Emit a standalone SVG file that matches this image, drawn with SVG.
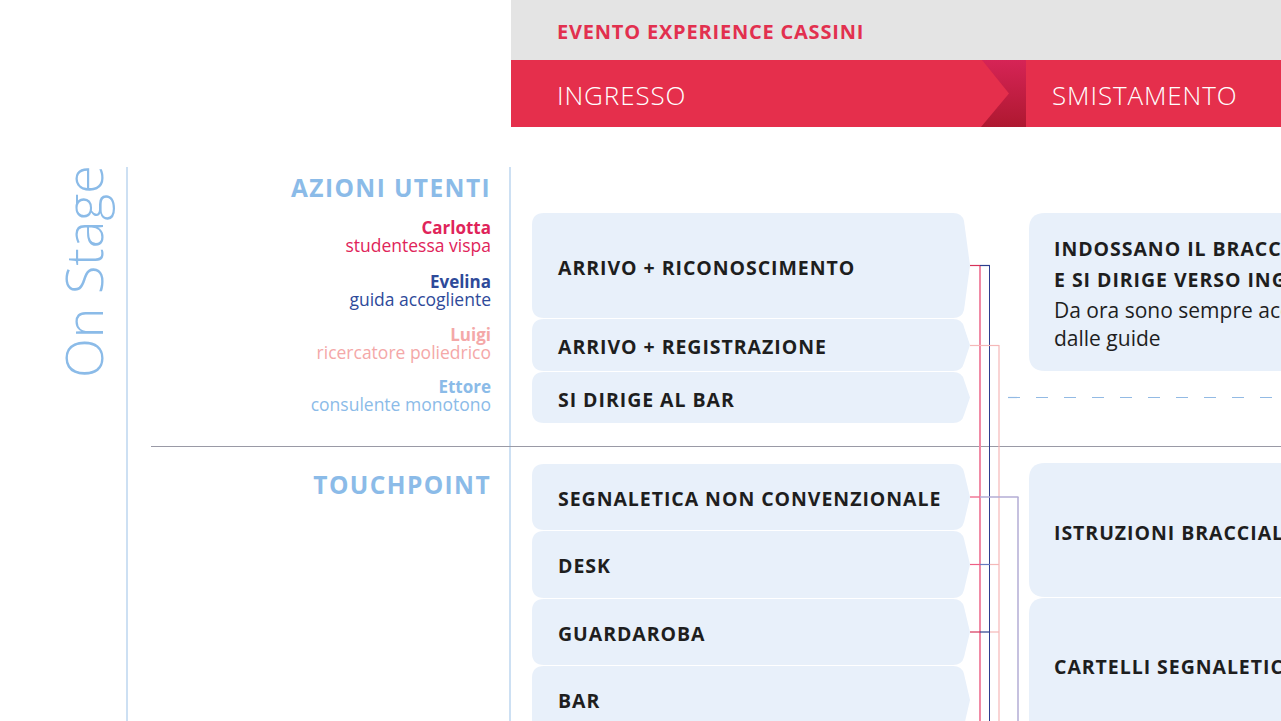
<svg xmlns="http://www.w3.org/2000/svg" width="1281" height="721" viewBox="0 0 1281 721">
<defs>
<linearGradient id="dk" x1="0" y1="0" x2="0" y2="1">
<stop offset="0" stop-color="#d62456"/>
<stop offset="1" stop-color="#ae1830"/>
</linearGradient>
<style>
.bx{fill:#e8f0fa}
.bt{font-family:"Open Sans","Noto Sans",sans-serif;font-weight:700;font-size:19.5px;fill:#1e1e1e;letter-spacing:0.95px}
.rt{font-family:"Open Sans","Noto Sans",sans-serif;font-weight:400;font-size:21px;fill:#1e1e1e}
.sec{font-family:"Open Sans","Noto Sans",sans-serif;font-weight:700;font-size:24.5px;fill:#8bbbe8;text-anchor:end;letter-spacing:1.4px}
.pn{font-family:"Open Sans","Noto Sans",sans-serif;font-weight:700;font-size:17px;text-anchor:end}
.pd{font-family:"Open Sans","Noto Sans",sans-serif;font-weight:400;font-size:17.5px;text-anchor:end}
.hd{font-family:"Open Sans","Noto Sans",sans-serif;font-weight:300;font-size:26px;fill:#ffffff;letter-spacing:0.9px}
.c{fill:none}
</style>
</defs>
<rect width="1281" height="721" fill="#ffffff"/>

<g id="header">
<rect x="511" y="0" width="770" height="60" fill="#e4e4e4"/>
<rect x="511" y="60" width="770" height="67" fill="#e52f4c"/>
<rect x="981" y="60" width="45" height="67" fill="url(#dk)"/>
<polygon points="511,60 982,60 1009,93.5 981,127 511,127" fill="#e52f4c"/>
<text x="557" y="39" font-family="Open Sans, Noto Sans, sans-serif" font-weight="700" font-size="20" fill="#e2304f" letter-spacing="0.8">EVENTO EXPERIENCE CASSINI</text>
<text class="hd" x="557" y="105">INGRESSO</text>
<text class="hd" x="1052" y="105" letter-spacing="1.6">SMISTAMENTO</text>
</g>

<g id="frame">
<line x1="127" y1="167" x2="127" y2="721" stroke="#bcd6ef" stroke-width="1.5"/>
<line x1="510" y1="167" x2="510" y2="721" stroke="#bcd6ef" stroke-width="1.5"/>
<line x1="151" y1="446.5" x2="1281" y2="446.5" stroke="#9a9aa6" stroke-width="1"/>
<line x1="1008" y1="397.5" x2="1281" y2="397.5" stroke="#92bae4" stroke-width="1.2" stroke-dasharray="12 16"/>
<text transform="translate(103,378) rotate(-90)" font-family="Open Sans, Noto Sans, sans-serif" font-weight="300" font-size="52" fill="#8bbbe8">On Stage</text>
</g>

<g id="labels">
<text class="sec" x="491" y="197">AZIONI UTENTI</text>
<text class="pn" x="491" y="234" fill="#e0245a">Carlotta</text>
<text class="pd" x="491" y="252" fill="#e0245a">studentessa vispa</text>
<text class="pn" x="491" y="288" fill="#2e4a9a">Evelina</text>
<text class="pd" x="491" y="306" fill="#2e4a9a">guida accogliente</text>
<text class="pn" x="491" y="341" fill="#f4a8a8">Luigi</text>
<text class="pd" x="491" y="359" fill="#f4a8a8">ricercatore poliedrico</text>
<text class="pn" x="491" y="393" fill="#8bbbe8">Ettore</text>
<text class="pd" x="491" y="411" fill="#8bbbe8">consulente monotono</text>
<text class="sec" x="491" y="494">TOUCHPOINT</text>
</g>

<g id="n-arrivo-riconoscimento">
<path class="bx" d="M544,213 H953 Q962,213 964,221 L970,265.5 L964,310 Q962,318 953,318 H544 Q532,318 532,306 V225 Q532,213 544,213 Z"/>
<text class="bt" x="558" y="275">ARRIVO + RICONOSCIMENTO</text>
</g>
<g id="n-arrivo-registrazione">
<path class="bx" d="M544,319 H953 Q962,319 964,327 L970,345 L964,363 Q962,371 953,371 H544 Q532,371 532,359 V331 Q532,319 544,319 Z"/>
<text class="bt" x="558" y="354">ARRIVO + REGISTRAZIONE</text>
</g>
<g id="n-si-dirige-bar">
<path class="bx" d="M544,372 H953 Q962,372 964,380 L970,397.5 L964,415 Q962,423 953,423 H544 Q532,423 532,411 V384 Q532,372 544,372 Z"/>
<text class="bt" x="558" y="407">SI DIRIGE AL BAR</text>
</g>

<g id="n-segnaletica">
<path class="bx" d="M544,464 H953 Q962,464 964,472 L970,497 L964,522 Q962,530 953,530 H544 Q532,530 532,518 V476 Q532,464 544,464 Z"/>
<text class="bt" x="558" y="506">SEGNALETICA NON CONVENZIONALE</text>
</g>
<g id="n-desk">
<path class="bx" d="M544,531 H953 Q962,531 964,539 L970,564.5 L964,590 Q962,598 953,598 H544 Q532,598 532,586 V543 Q532,531 544,531 Z"/>
<text class="bt" x="558" y="573">DESK</text>
</g>
<g id="n-guardaroba">
<path class="bx" d="M544,599 H953 Q962,599 964,607 L970,632 L964,657 Q962,665 953,665 H544 Q532,665 532,653 V611 Q532,599 544,599 Z"/>
<text class="bt" x="558" y="641">GUARDAROBA</text>
</g>
<g id="n-bar">
<path class="bx" d="M544,666 H953 Q962,666 964,674 L970,700 L964,726 Q962,734 953,734 H544 Q532,734 532,722 V678 Q532,666 544,666 Z"/>
<text class="bt" x="558" y="708">BAR</text>
</g>

<g id="n-indossano">
<path class="bx" d="M1045,213 H1290 V371 H1045 Q1029,371 1029,355 V229 Q1029,213 1045,213 Z"/>
<text class="bt" x="1054" y="256">INDOSSANO IL BRACCIALE</text>
<text class="bt" x="1054" y="287">E SI DIRIGE VERSO INGRESSO</text>
<text class="rt" x="1054" y="318">Da ora sono sempre accompagnati</text>
<text class="rt" x="1054" y="346">dalle guide</text>
</g>
<g id="n-istruzioni">
<path class="bx" d="M1045,463 H1290 V597 H1045 Q1029,597 1029,581 V479 Q1029,463 1045,463 Z"/>
<text class="bt" x="1054" y="540">ISTRUZIONI BRACCIALE</text>
</g>
<g id="n-cartelli">
<path class="bx" d="M1045,598 H1290 V740 H1029 V614 Q1029,598 1045,598 Z"/>
<text class="bt" x="1054" y="674">CARTELLI SEGNALETICI</text>
</g>

<g id="connectors" class="c">
<line x1="980" y1="265" x2="980" y2="721" stroke="#f08aa5" stroke-width="2"/>
<line x1="989.5" y1="265" x2="989.5" y2="721" stroke="#2d3e8e" stroke-width="1"/>
<line x1="999" y1="345" x2="999" y2="721" stroke="#f5b8b8" stroke-width="1.2"/>
<line x1="1018" y1="497" x2="1018" y2="721" stroke="#b3acd4" stroke-width="1.5"/>
<line x1="970" y1="265.5" x2="980" y2="265.5" stroke="#d6335a" stroke-width="1.2"/>
<line x1="980" y1="265.5" x2="990" y2="265.5" stroke="#2d3e8e" stroke-width="1.2"/>
<line x1="970" y1="345.5" x2="999" y2="345.5" stroke="#f5b8b8" stroke-width="1.2"/>
<line x1="970" y1="497" x2="980" y2="497" stroke="#ef6f90" stroke-width="1.4"/>
<line x1="980" y1="497" x2="1018.5" y2="497" stroke="#b3acd4" stroke-width="1.4"/>
<line x1="970" y1="564.5" x2="980" y2="564.5" stroke="#ef5f85" stroke-width="1.2"/>
<line x1="980" y1="564.5" x2="990" y2="564.5" stroke="#6a7bc0" stroke-width="1.2"/>
<line x1="990" y1="564.5" x2="999" y2="564.5" stroke="#f5b8b8" stroke-width="1.2"/>
<line x1="970" y1="632" x2="980" y2="632" stroke="#d6335a" stroke-width="1.2"/>
<line x1="980" y1="632" x2="990" y2="632" stroke="#2d3e8e" stroke-width="1.2"/>
<line x1="990" y1="632" x2="999" y2="632" stroke="#f5b8b8" stroke-width="1.2"/>
</g>
</svg>
